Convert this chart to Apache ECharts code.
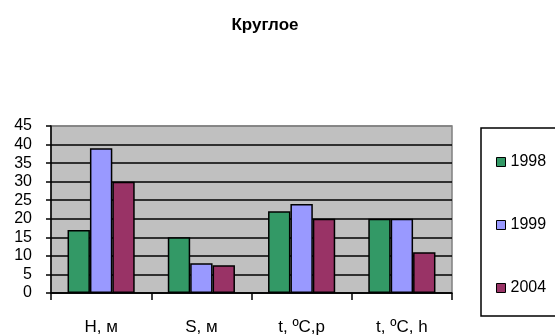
<!DOCTYPE html>
<html>
<head>
<meta charset="utf-8">
<script src="https://cdn.jsdelivr.net/npm/echarts@6/dist/echarts.min.js"></script>
<style>
html,body{margin:0;padding:0;background:#fff;}
#chart{width:555px;height:336px;}
</style>
</head>
<body>
<div id="chart"></div>
<script>
const categories = ['H, м', 'S, м', 't, ºC,p', 't, ºC, h'];
const seriesNames = ['1998', '1999', '2004'];
const values1998 = [17, 15, 22, 20];
const values1999 = [39, 8, 24, 20];
const values2004 = [30, 7.5, 20, 11];
const colors = ['#339966', '#9999FF', '#993366'];
const titleText = 'Круглое';

const chart = echarts.init(document.getElementById('chart'), null, {renderer: 'canvas'});
const font = 'Liberation Sans, Arial, sans-serif';
const dataSets = [values1998, values1999, values2004];
const gridColors = ['#000','#000','#000','#000','#000','#000','#000','#000','#000','#808080'];

chart.setOption({
  animation: false,
  backgroundColor: '#fff',
  title: {
    text: titleText,
    left: 260,
    top: 12,
    textAlign: 'center',
    textStyle: {fontFamily: font, fontSize: 17, fontWeight: 'bold', color: '#000'}
  },
  legend: {
    orient: 'vertical',
    left: 481,
    top: 128,
    padding: [26, 30, 20, 15],
    itemGap: 47,
    itemWidth: 9,
    itemHeight: 9,
    icon: 'rect',
    borderColor: '#000',
    borderWidth: 1.5,
    itemStyle: {borderColor: '#000', borderWidth: 1},
    textStyle: {fontFamily: font, fontSize: 16, color: '#000'},
    data: seriesNames
  },
  grid: {
    left: 51, right: 103, top: 126, bottom: 43,
    show: true,
    backgroundColor: '#C0C0C0',
    borderColor: '#808080',
    borderWidth: 1.5
  },
  xAxis: {
    type: 'category',
    data: categories,
    axisLine: {lineStyle: {color: '#000', width: 1.5}},
    axisTick: {show: true, length: 7, lineStyle: {color: '#000', width: 1.5}},
    axisLabel: {fontFamily: font, fontSize: 17, color: '#000', margin: 26},
    splitLine: {show: false}
  },
  yAxis: {
    type: 'value',
    min: 0, max: 45, interval: 5,
    axisLine: {show: true, lineStyle: {color: '#000', width: 1.5}},
    axisTick: {show: true, length: 5, lineStyle: {color: '#000', width: 1.5}},
    axisLabel: {fontFamily: font, fontSize: 16, color: '#000', margin: 19},
    splitLine: {show: true, lineStyle: {color: gridColors, width: 1.5}}
  },
  series: seriesNames.map((name, i) => ({
    name: name,
    type: 'bar',
    data: dataSets[i],
    barGap: '0%',
    barCategoryGap: '33%',
    itemStyle: {color: colors[i], borderColor: '#000', borderWidth: 1.5}
  }))
});
</script>
</body>
</html>
